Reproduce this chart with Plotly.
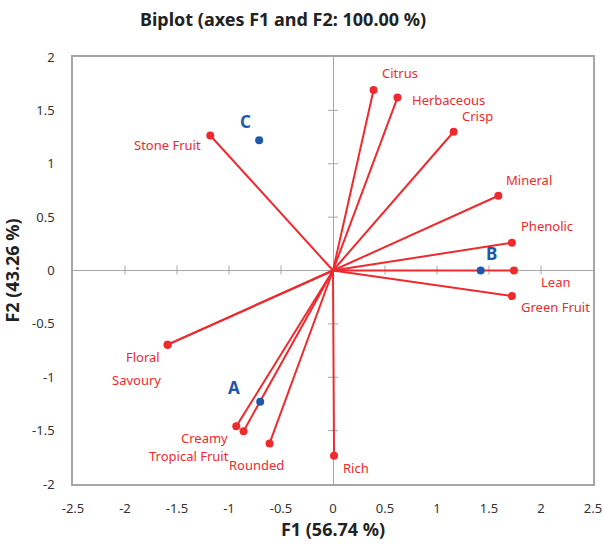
import plotly.graph_objects as go

# Variables (loadings)
var_names = ["Citrus", "Herbaceous", "Crisp", "Mineral", "Phenolic", "Lean",
             "Green Fruit", "Rich", "Rounded", "Tropical Fruit", "Creamy",
             "Floral", "Savoury", "Stone Fruit"]
var_f1 = [0.39, 0.62, 1.16, 1.59, 1.72, 1.74, 1.72, 0.01, -0.61, -0.86, -0.93,
          -1.59, -1.59, -1.18]
var_f2 = [1.69, 1.62, 1.30, 0.70, 0.26, 0.00, -0.24, -1.735, -1.62, -1.505, -1.46,
          -0.695, -0.695, 1.265]

# Observations
obs_names = ["A", "B", "C"]
obs_f1 = [-0.70, 1.42, -0.71]
obs_f2 = [-1.23, 0.00, 1.22]

x_ticks = [-2.5, -2, -1.5, -1, -0.5, 0, 0.5, 1, 1.5, 2, 2.5]
y_ticks = [-2, -1.5, -1, -0.5, 0, 0.5, 1, 1.5, 2]

RED = "#EE2A2E"
BLUE = "#1F58A8"
GRAY = "#A6A6A6"
FONT = "Noto Sans"

# label placement styles: (xanchor, xshift, yshift)
var_label_style = {
    "Citrus": ("left", 6, 17),
    "Herbaceous": ("left", 13, -2),
    "Crisp": ("left", 6, 16),
    "Mineral": ("left", 6, 16),
    "Phenolic": ("left", 7, 17),
    "Lean": ("left", 25, -11),
    "Green Fruit": ("left", 7, -11),
    "Rich": ("left", 7, -12),
    "Rounded": ("right", 16, -22),
    "Tropical Fruit": ("right", -13, -25),
    "Creamy": ("right", -6, -12),
    "Floral": ("right", -6, -12),
    "Savoury": ("right", -5, -35),
    "Stone Fruit": ("right", -7, -10),
}
obs_label_style = {
    "A": ("center", -26, 14),
    "B": ("center", 11, 17),
    "C": ("center", -14, 19),
}

fig = go.Figure()

# vector lines from origin
lx, ly = [], []
for x, y in zip(var_f1, var_f2):
    lx += [0, x, None]
    ly += [0, y, None]
fig.add_trace(go.Scatter(x=lx, y=ly, mode="lines",
                         line=dict(color=RED, width=2), hoverinfo="skip",
                         showlegend=False))
fig.add_trace(go.Scatter(x=var_f1, y=var_f2, mode="markers", text=var_names,
                         marker=dict(color=RED, size=8), showlegend=False))
fig.add_trace(go.Scatter(x=obs_f1, y=obs_f2, mode="markers", text=obs_names,
                         marker=dict(color=BLUE, size=8), showlegend=False))

annotations = []
for n, x, y in zip(var_names, var_f1, var_f2):
    xa, xs, ys = var_label_style[n]
    annotations.append(dict(x=x, y=y, xref="x", yref="y", text=n, showarrow=False,
                            xanchor=xa, yanchor="middle", xshift=xs, yshift=ys,
                            font=dict(family=FONT, size=13, color=RED)))
for n, x, y in zip(obs_names, obs_f1, obs_f2):
    xa, xs, ys = obs_label_style[n]
    annotations.append(dict(x=x, y=y, xref="x", yref="y", text="<b>" + n + "</b>",
                            showarrow=False, xanchor=xa, yanchor="middle",
                            xshift=xs, yshift=ys,
                            font=dict(family=FONT, size=17, color=BLUE)))

# tick marks on the zero lines
shapes = []
for t in x_ticks:
    if t not in (0, -2.5, 2.5):
        shapes.append(dict(type="line", xref="x", yref="y", x0=t, x1=t,
                           ysizemode="pixel", yanchor=0, y0=-4, y1=5,
                           line=dict(color=GRAY, width=1), layer="below"))
for t in y_ticks:
    if t not in (0, -2, 2):
        shapes.append(dict(type="line", xref="x", yref="y", y0=t, y1=t,
                           xsizemode="pixel", xanchor=0, x0=-5, x1=5,
                           line=dict(color=GRAY, width=1), layer="below"))

fig.update_layout(
    width=603, height=545,
    margin=dict(l=73, r=10, t=57, b=61, autoexpand=False),
    paper_bgcolor="white", plot_bgcolor="white",
    title=dict(text="<b>Biplot (axes F1 and F2: 100.00 %)</b>",
               x=283 / 603, xanchor="center", y=1 - 20 / 545, yanchor="middle",
               font=dict(family=FONT, size=18, color="#222222")),
    annotations=annotations,
    shapes=shapes,
    font=dict(family=FONT, size=13, color="#333333"),
)
fig.update_xaxes(range=[-2.5, 2.5], tickvals=x_ticks,
                 ticktext=[f"{t:g}" for t in x_ticks], automargin=False,
                 showgrid=False, zeroline=True, zerolinecolor=GRAY, zerolinewidth=1,
                 showline=True, mirror=True, linecolor=GRAY, linewidth=1.5,
                 ticks="", ticklabelstandoff=12,
                 title=dict(text="<b>F1 (56.74 %)</b>", standoff=6,
                            font=dict(family=FONT, size=18, color="#222222")))
fig.update_yaxes(range=[-2, 2], tickvals=y_ticks,
                 ticktext=[f"{t:g}" for t in y_ticks], automargin=False,
                 showgrid=False, zeroline=True, zerolinecolor=GRAY, zerolinewidth=1,
                 showline=True, mirror=True, linecolor=GRAY, linewidth=1.5,
                 ticks="", ticklabelstandoff=14,
                 title=dict(text="<b>F2 (43.26 %)</b>", standoff=8,
                            font=dict(family=FONT, size=18, color="#222222")))

fig.write_html("out.html")
